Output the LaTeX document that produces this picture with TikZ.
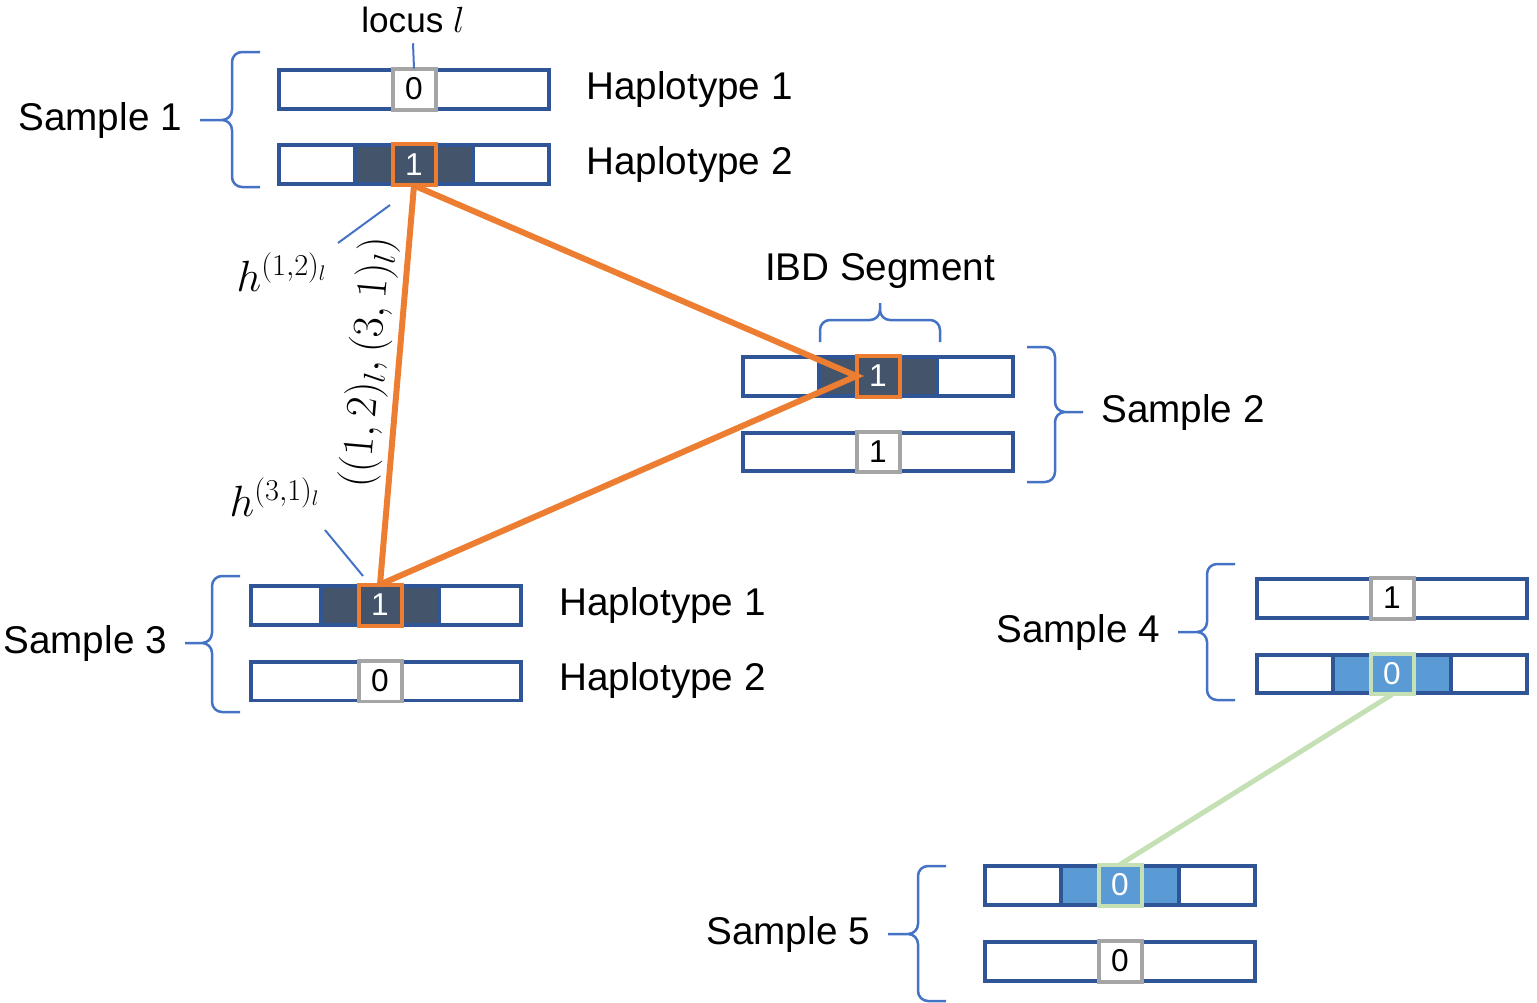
\documentclass[tikz,border=0pt]{standalone}
\usepackage[no-math]{fontspec}
\setmainfont{Liberation Sans}
\usepackage{amsmath}
\usetikzlibrary{positioning}
\definecolor{barblue}{HTML}{2F5597}
\definecolor{segdark}{HTML}{44546A}
\definecolor{ibdorange}{HTML}{ED7D31}
\definecolor{locgray}{HTML}{A5A5A5}
\definecolor{ltblue}{HTML}{5B9BD5}
\definecolor{matchgreen}{HTML}{C5E0B4}
\definecolor{braceblue}{HTML}{4472C4}

\begin{document}
\begin{tikzpicture}[x=0.02cm, y=-0.02cm,
          hap/.style={draw=barblue, line width=0.08cm, fill=white, minimum width=5.4cm,
                      minimum height=0.78cm, inner sep=0pt, outer sep=0pt},
          seg/.style={hap, fill=segdark, minimum width=2.36cm},
          ibdseg/.style={hap, fill=ltblue, minimum width=2.36cm},
          locus/.style={draw=locgray, line width=0.08cm, fill=white, minimum width=0.86cm,
                        minimum height=0.82cm, inner sep=0pt, outer sep=0pt,
                        font=\fontsize{18}{22}\selectfont},
          hitlocus/.style={locus, draw=ibdorange, fill=segdark, text=white},
          matchlocus/.style={locus, draw=matchgreen, fill=ltblue, text=white},
          lbl/.style={inner sep=0pt, font=\fontsize{22}{26}\selectfont},
          grp/.style={draw=braceblue, line width=0.05cm, rounded corners=0.2cm},
          ptr/.style={draw=braceblue, line width=0.04cm},
          ibd/.style={draw=ibdorange, line width=0.12cm},
          match/.style={draw=matchgreen, line width=0.1cm}]
  \useasboundingbox (0,0) rectangle (1537,1002);

  % sample 1
  \node[hap] (s1h1) at (414,89) {};
  \node[hap, below=0.74cm of s1h1] (s1h2) {};
  \node[seg] (s1h2seg) at (s1h2.center) {};
  \node[locus] (s1h1l) at (s1h1.center) {0};
  \node[hitlocus] (s1h2l) at (s1h2.center) {1};
  \node[lbl, right=0.74cm of s1h1] (s1h1t) {Haplotype 1};
  \node[lbl, right=0.74cm of s1h2] (s1h2t) {Haplotype 2};
  \node[lbl, font=\fontsize{20}{24}\selectfont] (locl) at (413,20) {locus $l$};
  \draw[ptr] ([yshift=-0.2cm]locl.south) -- (s1h1l.north);
  \draw[grp] (260,52) -| (232,120) -- (200,120) node[lbl, left=0.34cm] (s1t) {Sample 1}
             (200,120) -- (232,120) |- (260,187);

  % sample 2
  \node[hap] (s2h1) at (878,376) {};
  \node[hap, below=0.74cm of s2h1] (s2h2) {};
  \node[seg] (s2h1seg) at (s2h1.center) {};
  \node[hitlocus] (s2h1l) at (s2h1.center) {1};
  \node[locus] (s2h2l) at (s2h2.center) {1};
  \draw[grp] (1027,347) -| (1055,412) -- (1083,412) node[lbl, right=0.34cm] (s2t) {Sample 2}
             (1083,412) -- (1055,412) |- (1027,482);
  \draw[grp] (820,342) |- (880,320) -- (880,303) node[lbl, above=0.26cm] (ibdt) {IBD Segment}
             (880,303) -- (880,320) -| (940,342);

  % sample 3
  \node[hap] (s3h1) at (386,605) {};
  \node[hap, below=0.74cm of s3h1] (s3h2) {};
  \node[seg] (s3h1seg) at ([xshift=-0.12cm]s3h1.center) {};
  \node[hitlocus] (s3h1l) at ([xshift=-0.12cm]s3h1.center) {1};
  \node[locus] (s3h2l) at ([xshift=-0.12cm]s3h2.center) {0};
  \node[lbl, right=0.76cm of s3h1] (s3h1t) {Haplotype 1};
  \node[lbl, right=0.76cm of s3h2] (s3h2t) {Haplotype 2};
  \draw[grp] (240,576) -| (212,643) -- (185,643) node[lbl, left=0.34cm] (s3t) {Sample 3}
             (185,643) -- (212,643) |- (240,712);

  % sample 4
  \node[hap] (s4h1) at (1392,598) {};
  \node[hap, below=0.74cm of s4h1] (s4h2) {};
  \node[ibdseg] (s4h2seg) at (s4h2.center) {};
  \node[locus] (s4h1l) at (s4h1.center) {1};
  \node[matchlocus] (s4h2l) at (s4h2.center) {0};
  \draw[grp] (1235,564) -| (1207,632) -- (1178,632) node[lbl, left=0.34cm] (s4t) {Sample 4}
             (1178,632) -- (1207,632) |- (1235,700);

  % sample 5
  \node[hap] (s5h1) at (1120,885) {};
  \node[hap, below=0.74cm of s5h1] (s5h2) {};
  \node[ibdseg] (s5h1seg) at (s5h1.center) {};
  \node[matchlocus] (s5h1l) at (s5h1.center) {0};
  \node[locus] (s5h2l) at (s5h2.center) {0};
  \draw[grp] (946,866) -| (918,934) -- (888,934) node[lbl, left=0.34cm] (s5t) {Sample 5}
             (888,934) -- (918,934) |- (946,1001);

  % shared alleles
  \draw[ibd] (s3h1l.north) -- node[lbl, pos=0.55, sloped, above=3pt,
             font=\fontsize{24}{28}\selectfont] (pairt) {$((1,2)_l,(3,1)_l)$} (s1h2l.south);
  \draw[ibd] (s1h2l.south) -- (s2h1l.west) -- (s3h1l.north);
  \draw[match] (s4h2l.south) -- (s5h1l.north);

  % h labels
  \node[lbl, font=\fontsize{24}{28}\selectfont] (h12) at (282,272) {$h^{(1,2)_l}$};
  \node[lbl, font=\fontsize{24}{28}\selectfont] (h31) at (275,497) {$h^{(3,1)_l}$};
  \coordinate (h12a) at (390,205);
  \coordinate (h12b) at (338,243);
  \coordinate (h31a) at (363,576);
  \coordinate (h31b) at (325,530);
  \draw[ptr] (h12a) -- (h12b);
  \draw[ptr] (h31a) -- (h31b);
\end{tikzpicture}
\end{document}
